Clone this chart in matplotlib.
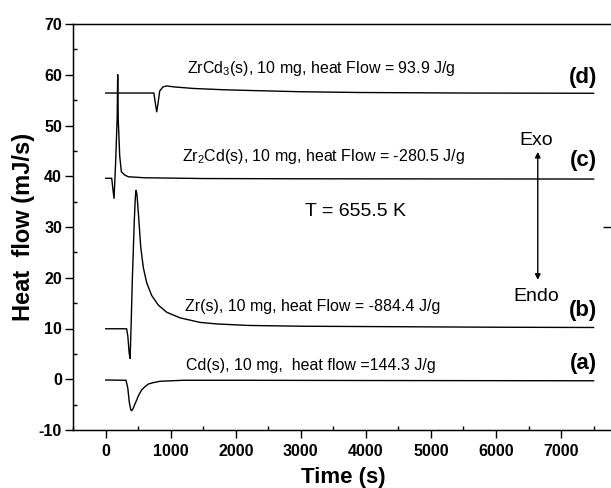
import matplotlib
matplotlib.use("Agg")
import matplotlib.pyplot as plt
from matplotlib.ticker import MultipleLocator, FixedLocator

plt.rcParams['font.family'] = ['Liberation Sans', 'DejaVu Sans']
plt.rcParams['mathtext.fontset'] = 'custom'
plt.rcParams['mathtext.rm'] = 'Liberation Sans'
plt.rcParams['mathtext.it'] = 'Liberation Sans:italic'
plt.rcParams['mathtext.bf'] = 'Liberation Sans:bold'
plt.rcParams['mathtext.default'] = 'regular'
plt.rcParams['axes.unicode_minus'] = False

# ---- data ----
t_cd = [0, 312, 340, 362, 385, 400, 420, 445, 476, 500, 553, 600, 655, 720, 835, 1193, 2000, 4000, 7500]
hf_cd = [-0.15, -0.2, -1.8, -4.5, -6.0, -6.2, -5.8, -5.0, -4.1, -3.3, -2.1, -1.5, -0.95, -0.7, -0.4, -0.2, -0.2, -0.25, -0.3]

t_zr = [0, 321, 340, 360, 375, 390, 409, 440, 455, 466, 480, 502, 538, 578, 630, 707, 809, 938,
        1142, 1450, 1707, 2200, 3000, 4500, 6000, 7500]
hf_zr = [9.95, 9.95, 8.5, 5.2, 4.1, 10.5, 19.6, 31.5, 35.8, 37.2, 36.4, 32.7, 26.1, 22.0, 19.0, 16.5, 14.6, 13.2,
         12.1, 11.2, 10.9, 10.6, 10.45, 10.35, 10.25, 10.2]

t_zr2cd = [0, 92, 110, 128, 150, 176, 184, 192, 215, 240, 297, 348, 600, 1500, 3000, 7500]
hf_zr2cd = [39.6, 39.6, 37.5, 35.65, 42.0, 51.4, 60.0, 51.4, 44.0, 40.9, 40.2, 39.9, 39.7, 39.55, 39.5, 39.45]

t_zrcd3 = [0, 740, 765, 784, 800, 830, 880, 938, 1050, 1347, 1800, 2218, 3000, 3910, 5500, 7500]
hf_zrcd3 = [56.4, 56.4, 54.2, 52.7, 54.0, 56.8, 57.6, 57.8, 57.6, 57.3, 57.05, 56.9, 56.65, 56.5, 56.4, 56.35]

x_ticks = [0, 1000, 2000, 3000, 4000, 5000, 6000, 7000]
y_ticks = [-10, 0, 10, 20, 30, 40, 50, 60, 70]

labels = ["Cd(s), 10 mg,  heat flow =144.3 J/g",
          "Zr(s), 10 mg, heat Flow = -884.4 J/g",
          "Zr$_2$Cd(s), 10 mg, heat Flow = -280.5 J/g",
          "ZrCd$_3$(s), 10 mg, heat Flow = 93.9 J/g"]
label_x = [1235, 1219, 1168, 1245]
label_y = [2.8, 14.3, 43.9, 61.3]
tags = ["(a)", "(b)", "(c)", "(d)"]
tag_y = [3.2, 13.6, 43.2, 59.4]

# ---- figure ----
fig = plt.figure(figsize=(6.11, 4.88), dpi=100)
ax = fig.add_axes([73.2 / 611, 58 / 488, 539.9 / 611, 406 / 488])

for t, h in [(t_cd, hf_cd), (t_zr, hf_zr), (t_zr2cd, hf_zr2cd), (t_zrcd3, hf_zrcd3)]:
    ax.plot(t, h, color='black', lw=1.0)

ax.set_xlim(-500, 7800)
ax.set_ylim(-10, 70)
ax.xaxis.set_major_locator(FixedLocator(x_ticks))
ax.yaxis.set_major_locator(FixedLocator(y_ticks))
ax.xaxis.set_minor_locator(MultipleLocator(500))
ax.yaxis.set_minor_locator(MultipleLocator(5))
ax.tick_params(which='major', direction='out', length=6, width=1.0, labelsize=11.5, pad=2)
ax.tick_params(axis='x', which='major', pad=4)
ax.tick_params(which='minor', direction='in', length=3, width=1.0)
ax.tick_params(right=False, top=False, which='both')
for lab in ax.get_xticklabels() + ax.get_yticklabels():
    lab.set_fontweight('bold')
for s in ax.spines.values():
    s.set_linewidth(1.0)

ax.set_xlabel("Time (s)", fontsize=16, fontweight='bold', labelpad=6)
ax.set_ylabel("Heat  flow (mJ/s)", fontsize=17, fontweight='bold', labelpad=3)

for lx, ly, txt in zip(label_x, label_y, labels):
    ax.text(lx, ly, txt, fontsize=11.5, ha='left', va='center')
for ty, tg in zip(tag_y, tags):
    ax.text(7560, ty, tg, fontsize=16, fontweight='bold', ha='right', va='center')

ax.text(3060, 33.0, "T = 655.5 K", fontsize=14, ha='left', va='center')
ax.text(6625, 47.1, "Exo", fontsize=14, ha='center', va='center')
ax.text(6625, 16.3, "Endo", fontsize=14, ha='center', va='center')
ax.annotate("", xy=(6642, 44.8), xytext=(6642, 19.6),
            arrowprops=dict(arrowstyle='<|-|>', color='black', lw=1.0,
                            mutation_scale=8, shrinkA=0, shrinkB=0))

# right-hand axis tick (partly visible)
ax2 = ax.twinx()
ax2.set_ylim(-10, 70)
ax2.yaxis.set_major_locator(FixedLocator([30]))
ax2.tick_params(axis='y', direction='in', length=7, width=1.0, labelright=False)
ax2.yaxis.set_minor_locator(FixedLocator([]))

fig.savefig("out.png", dpi=100)
